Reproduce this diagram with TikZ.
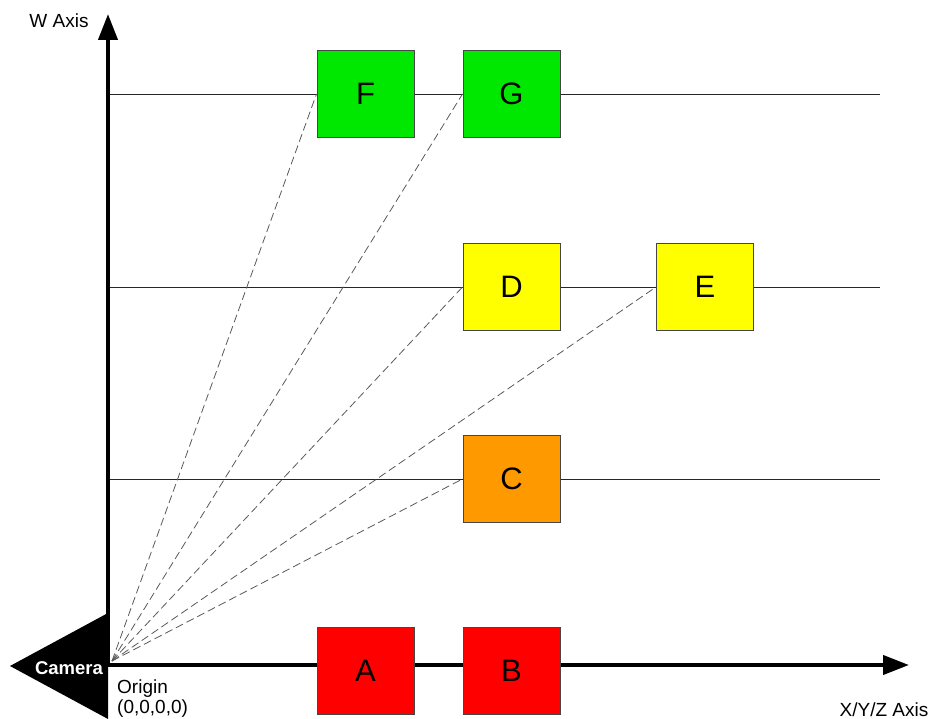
\documentclass[tikz,border=0pt]{standalone}
\usepackage{fontspec}
\setmainfont{Liberation Sans}
\usetikzlibrary{arrows.meta}
\definecolor{boxgreen}{RGB}{0,232,0}
\definecolor{boxyellow}{RGB}{255,255,0}
\definecolor{boxorange}{RGB}{255,153,0}
\definecolor{boxred}{RGB}{255,0,0}
\definecolor{edgegray}{RGB}{70,70,70}
\tikzset{
  levelbox/.style={draw=edgegray, line width=1pt, minimum width=97pt, minimum height=87pt,
    inner sep=0pt, font=\fontsize{31}{31}\selectfont},
  axisline/.style={line width=4pt, -{Triangle[length=26pt,width=19pt]}},
  level/.style={draw=black!85, line width=0.9pt},
  sightline/.style={draw=black!65, line width=0.8pt, dash pattern=on 8pt off 4pt},
  label/.style={font=\fontsize{19}{20}\selectfont, inner sep=0pt},
}
\begin{document}
\begin{tikzpicture}[x=1pt, y=-1pt]
\useasboundingbox (0,0) rectangle (930,719);
% camera wedge
\fill[black] (108,613) -- (10,666) -- (108,719) -- cycle;
\node[text=white, font=\bfseries\fontsize{18.5}{18.5}\selectfont, inner sep=0pt] (cam) at (69,668) {Camera};
% key points
\coordinate (origin) at (112,661);
\coordinate (wbase) at (108,667);
\coordinate (wtip) at (108,14);
\coordinate (xbase) at (106,665);
\coordinate (xtip) at (909,665);
% level lines
\coordinate (l1a) at (108,94);  \coordinate (l1b) at (880,94);
\coordinate (l2a) at (108,287); \coordinate (l2b) at (880,287);
\coordinate (l3a) at (108,479); \coordinate (l3b) at (880,479);
\draw[level] (l1a) -- (l1b);
\draw[level] (l2a) -- (l2b);
\draw[level] (l3a) -- (l3b);
% axes
\draw[axisline] (wbase) -- (wtip);
\draw[axisline] (xbase) -- (xtip);
% boxes
\node[levelbox, fill=boxgreen] (F) at (365.5,94) {F};
\node[levelbox, fill=boxgreen] (G) at (511.5,94) {G};
\node[levelbox, fill=boxyellow] (D) at (511.5,287) {D};
\node[levelbox, fill=boxyellow] (E) at (705,287) {E};
\node[levelbox, fill=boxorange] (C) at (511.5,479) {C};
\node[levelbox, fill=boxred] (A) at (365.5,671) {A};
\node[levelbox, fill=boxred] (B) at (511.5,671) {B};
% sight lines from the camera
\draw[sightline] (origin) -- (F.west);
\draw[sightline] (origin) -- (G.west);
\draw[sightline] (origin) -- (D.west);
\draw[sightline] (origin) -- (E.west);
\draw[sightline] (origin) -- (C.west);
% labels
\node[label, anchor=north west, align=left] (orig) at (117,680) {Origin\\(0,0,0,0)};
\node[label, anchor=base] (wlab) at (59,28) {W Axis};
\node[label, anchor=base] (xlab) at (884,716) {X/Y/Z Axis};
\end{tikzpicture}
\end{document}
